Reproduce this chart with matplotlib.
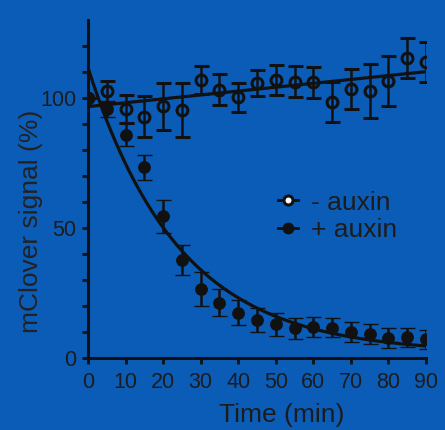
import numpy as np
import matplotlib
matplotlib.use("Agg")
import matplotlib.pyplot as plt
from matplotlib.lines import Line2D

plt.rcParams["font.family"] = ["Liberation Sans", "DejaVu Sans"]

BG = "#0B5CB6"
INK = "#111111"

# temps (min)
temps = [0, 5, 10, 15, 20, 25, 30, 35, 40, 45, 50, 55, 60, 65, 70, 75, 80, 85, 90]

# - auxin : moyenne et erreur
moins_auxine = [100, 102.5, 95.8, 92.8, 96.9, 95.4, 106.9, 103.2, 100.2, 105.9,
                106.9, 106.2, 106.0, 98.3, 103.4, 102.8, 106.6, 115.3, 113.9]
moins_err = [0, 4.0, 5.5, 7.8, 9.0, 10.4, 5.5, 6.0, 5.7, 5.0,
             5.6, 6.0, 6.0, 7.7, 7.8, 10.3, 9.5, 7.6, 7.7]

# + auxin : moyenne et erreur
plus_auxine = [100, 95.8, 85.9, 73.4, 54.5, 37.9, 26.6, 21.3, 17.6, 14.7,
               13.0, 11.5, 12.1, 11.7, 10.2, 9.3, 7.9, 8.0, 7.3]
plus_err = [0, 3.0, 4.4, 4.8, 6.2, 5.8, 6.6, 5.2, 4.7, 4.7,
            4.6, 4.1, 3.8, 3.7, 3.8, 3.8, 3.8, 3.8, 3.6]

# ajustements : droite (- auxin) et décroissance mono-exponentielle (+ auxin)
droite_a, droite_b = 0.149, 96.7
decr_y0, decr_plateau, decr_k = 111.5, 2.0, 0.041

fig = plt.figure(figsize=(4.45, 4.30), dpi=100, facecolor=BG)
ax = fig.add_axes([0.198, 0.1667, 0.759, 0.787])
ax.set_facecolor("none")

t_fit = np.linspace(0, 90, 300)
ax.plot(t_fit, droite_b + droite_a * t_fit, color=INK, lw=2.3, zorder=2)
ax.plot(t_fit, decr_plateau + (decr_y0 - decr_plateau) * np.exp(-decr_k * t_fit),
        color=INK, lw=2.3, zorder=2)

ax.errorbar(temps, moins_auxine, yerr=moins_err, fmt="o", color=INK,
            mfc="none", mec=INK, ms=7.8, mew=2.2, elinewidth=1.8,
            capsize=5.4, capthick=2.2, zorder=3)
ax.errorbar(temps, plus_auxine, yerr=plus_err, fmt="o", color=INK,
            mfc=INK, mec=INK, ms=8.2, mew=1.0, elinewidth=1.8,
            capsize=5.4, capthick=2.2, zorder=4)

ax.set_xlim(0, 90)
ax.set_ylim(0, 130)
ax.set_xticks(np.arange(0, 91, 10))
ax.set_yticks([0, 50, 100])
ax.set_yticks(np.arange(0, 121, 10), minor=True)

for s in ["top", "right"]:
    ax.spines[s].set_visible(False)
for s in ["left", "bottom"]:
    ax.spines[s].set_linewidth(2.2)
    ax.spines[s].set_color(INK)

ax.tick_params(axis="both", which="both", direction="out", length=4.5,
               width=2.0, color=INK, labelcolor="#1c1c1c", labelsize=15.5)
ax.tick_params(axis="x", pad=5)
ax.tick_params(axis="y", pad=4)

ax.set_xlabel("Time (min)", fontsize=19, color="#1c1c1c")
ax.xaxis.set_label_coords(0.573, -0.132)
ax.set_ylabel("mClover signal (%)", fontsize=19, color="#222222")
ax.yaxis.set_label_coords(-0.135, 0.405)

poignees = [
    Line2D([], [], color=INK, lw=2, marker="o", ms=6.5, mfc="white",
           mec=INK, mew=2.2),
    Line2D([], [], color=INK, lw=2, marker="o", ms=7.5, mfc=INK, mec=INK),
]
leg = ax.legend(poignees, ["- auxin", "+ auxin"], loc="center left",
                bbox_to_anchor=(0.562, 0.42), frameon=False, fontsize=19,
                handlelength=0.75, handletextpad=0.5, labelspacing=0.12,
                borderpad=0, borderaxespad=0)
for txt in leg.get_texts():
    txt.set_color("#1c1c1c")

fig.savefig("out.png", dpi=100, facecolor=BG)
